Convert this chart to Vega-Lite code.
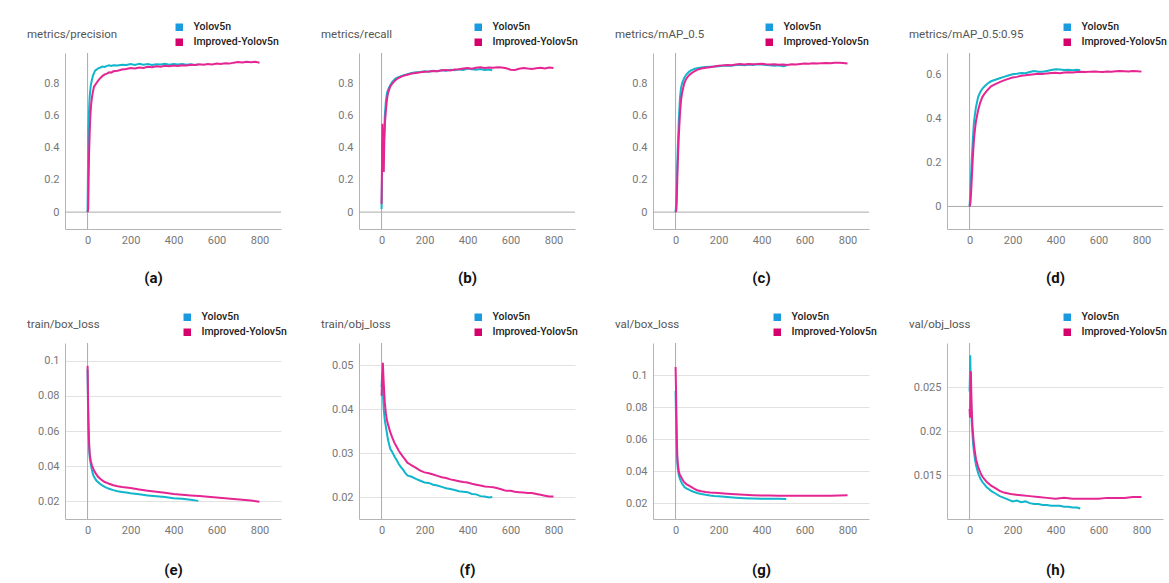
{
  "$schema": "https://vega.github.io/schema/vega-lite/v6.json",
  "background": "white",
  "padding": {"left": 27, "top": 22, "right": 4, "bottom": 4},
  "columns": 4,
  "bounds": "flush",
  "spacing": {"row": 114, "column": 78},
  "resolve": {"scale": {"fill": "independent", "stroke": "independent"}, "legend": {"fill": "independent", "stroke": "independent"}},
  "datasets": {
    "a": [
      {"m":"Yolov5n","e":0,"v":0.0},{"m":"Yolov5n","e":2,"v":0.28},{"m":"Yolov5n","e":4,"v":0.52},{"m":"Yolov5n","e":6,"v":0.6},{"m":"Yolov5n","e":8,"v":0.67},{"m":"Yolov5n","e":10,"v":0.72},{"m":"Yolov5n","e":15,"v":0.79},{"m":"Yolov5n","e":20,"v":0.82},{"m":"Yolov5n","e":25,"v":0.85},{"m":"Yolov5n","e":30,"v":0.865},{"m":"Yolov5n","e":35,"v":0.88},{"m":"Yolov5n","e":40,"v":0.885},{"m":"Yolov5n","e":50,"v":0.895},{"m":"Yolov5n","e":60,"v":0.9},{"m":"Yolov5n","e":70,"v":0.906},{"m":"Yolov5n","e":80,"v":0.903},{"m":"Yolov5n","e":90,"v":0.91},{"m":"Yolov5n","e":100,"v":0.913},{"m":"Yolov5n","e":110,"v":0.909},{"m":"Yolov5n","e":120,"v":0.914},{"m":"Yolov5n","e":140,"v":0.912},{"m":"Yolov5n","e":160,"v":0.917},{"m":"Yolov5n","e":180,"v":0.915},{"m":"Yolov5n","e":200,"v":0.921},{"m":"Yolov5n","e":220,"v":0.916},{"m":"Yolov5n","e":240,"v":0.923},{"m":"Yolov5n","e":260,"v":0.917},{"m":"Yolov5n","e":280,"v":0.921},{"m":"Yolov5n","e":300,"v":0.915},{"m":"Yolov5n","e":320,"v":0.92},{"m":"Yolov5n","e":340,"v":0.918},{"m":"Yolov5n","e":360,"v":0.923},{"m":"Yolov5n","e":380,"v":0.917},{"m":"Yolov5n","e":400,"v":0.921},{"m":"Yolov5n","e":420,"v":0.918},{"m":"Yolov5n","e":440,"v":0.922},{"m":"Yolov5n","e":460,"v":0.917},{"m":"Yolov5n","e":480,"v":0.92},{"m":"Yolov5n","e":500,"v":0.915},{"m":"Yolov5n","e":515,"v":0.918},
      {"m":"Improved-Yolov5n","e":0,"v":0.0},{"m":"Improved-Yolov5n","e":3,"v":0.02},{"m":"Improved-Yolov5n","e":5,"v":0.2},{"m":"Improved-Yolov5n","e":7,"v":0.36},{"m":"Improved-Yolov5n","e":10,"v":0.5},{"m":"Improved-Yolov5n","e":13,"v":0.6},{"m":"Improved-Yolov5n","e":16,"v":0.66},{"m":"Improved-Yolov5n","e":20,"v":0.71},{"m":"Improved-Yolov5n","e":25,"v":0.75},{"m":"Improved-Yolov5n","e":30,"v":0.78},{"m":"Improved-Yolov5n","e":35,"v":0.79},{"m":"Improved-Yolov5n","e":40,"v":0.8},{"m":"Improved-Yolov5n","e":50,"v":0.82},{"m":"Improved-Yolov5n","e":60,"v":0.835},{"m":"Improved-Yolov5n","e":70,"v":0.848},{"m":"Improved-Yolov5n","e":80,"v":0.857},{"m":"Improved-Yolov5n","e":90,"v":0.862},{"m":"Improved-Yolov5n","e":100,"v":0.87},{"m":"Improved-Yolov5n","e":110,"v":0.868},{"m":"Improved-Yolov5n","e":120,"v":0.876},{"m":"Improved-Yolov5n","e":140,"v":0.88},{"m":"Improved-Yolov5n","e":160,"v":0.887},{"m":"Improved-Yolov5n","e":180,"v":0.89},{"m":"Improved-Yolov5n","e":200,"v":0.896},{"m":"Improved-Yolov5n","e":220,"v":0.893},{"m":"Improved-Yolov5n","e":240,"v":0.9},{"m":"Improved-Yolov5n","e":260,"v":0.897},{"m":"Improved-Yolov5n","e":280,"v":0.904},{"m":"Improved-Yolov5n","e":300,"v":0.902},{"m":"Improved-Yolov5n","e":320,"v":0.908},{"m":"Improved-Yolov5n","e":340,"v":0.905},{"m":"Improved-Yolov5n","e":360,"v":0.91},{"m":"Improved-Yolov5n","e":380,"v":0.907},{"m":"Improved-Yolov5n","e":400,"v":0.912},{"m":"Improved-Yolov5n","e":420,"v":0.909},{"m":"Improved-Yolov5n","e":440,"v":0.914},{"m":"Improved-Yolov5n","e":460,"v":0.912},{"m":"Improved-Yolov5n","e":480,"v":0.917},{"m":"Improved-Yolov5n","e":500,"v":0.915},{"m":"Improved-Yolov5n","e":520,"v":0.92},{"m":"Improved-Yolov5n","e":540,"v":0.917},{"m":"Improved-Yolov5n","e":560,"v":0.921},{"m":"Improved-Yolov5n","e":580,"v":0.919},{"m":"Improved-Yolov5n","e":600,"v":0.924},{"m":"Improved-Yolov5n","e":620,"v":0.922},{"m":"Improved-Yolov5n","e":640,"v":0.926},{"m":"Improved-Yolov5n","e":660,"v":0.924},{"m":"Improved-Yolov5n","e":680,"v":0.93},{"m":"Improved-Yolov5n","e":700,"v":0.934},{"m":"Improved-Yolov5n","e":720,"v":0.931},{"m":"Improved-Yolov5n","e":740,"v":0.936},{"m":"Improved-Yolov5n","e":760,"v":0.933},{"m":"Improved-Yolov5n","e":780,"v":0.935},{"m":"Improved-Yolov5n","e":800,"v":0.93}
    ],
    "b": [
      {"m":"Yolov5n","e":0,"v":0.02},{"m":"Yolov5n","e":2,"v":0.2},{"m":"Yolov5n","e":4,"v":0.45},{"m":"Yolov5n","e":6,"v":0.35},{"m":"Yolov5n","e":8,"v":0.25},{"m":"Yolov5n","e":10,"v":0.4},{"m":"Yolov5n","e":15,"v":0.6},{"m":"Yolov5n","e":20,"v":0.69},{"m":"Yolov5n","e":25,"v":0.74},{"m":"Yolov5n","e":30,"v":0.76},{"m":"Yolov5n","e":40,"v":0.79},{"m":"Yolov5n","e":50,"v":0.81},{"m":"Yolov5n","e":60,"v":0.825},{"m":"Yolov5n","e":70,"v":0.835},{"m":"Yolov5n","e":80,"v":0.84},{"m":"Yolov5n","e":90,"v":0.845},{"m":"Yolov5n","e":100,"v":0.85},{"m":"Yolov5n","e":120,"v":0.858},{"m":"Yolov5n","e":140,"v":0.866},{"m":"Yolov5n","e":160,"v":0.87},{"m":"Yolov5n","e":180,"v":0.872},{"m":"Yolov5n","e":200,"v":0.876},{"m":"Yolov5n","e":220,"v":0.874},{"m":"Yolov5n","e":240,"v":0.879},{"m":"Yolov5n","e":260,"v":0.877},{"m":"Yolov5n","e":280,"v":0.883},{"m":"Yolov5n","e":300,"v":0.88},{"m":"Yolov5n","e":320,"v":0.885},{"m":"Yolov5n","e":340,"v":0.882},{"m":"Yolov5n","e":360,"v":0.888},{"m":"Yolov5n","e":380,"v":0.884},{"m":"Yolov5n","e":400,"v":0.893},{"m":"Yolov5n","e":420,"v":0.889},{"m":"Yolov5n","e":440,"v":0.886},{"m":"Yolov5n","e":460,"v":0.89},{"m":"Yolov5n","e":480,"v":0.884},{"m":"Yolov5n","e":500,"v":0.887},{"m":"Yolov5n","e":515,"v":0.883},
      {"m":"Improved-Yolov5n","e":0,"v":0.05},{"m":"Improved-Yolov5n","e":2,"v":0.3},{"m":"Improved-Yolov5n","e":4,"v":0.55},{"m":"Improved-Yolov5n","e":6,"v":0.5},{"m":"Improved-Yolov5n","e":8,"v":0.3},{"m":"Improved-Yolov5n","e":10,"v":0.25},{"m":"Improved-Yolov5n","e":13,"v":0.45},{"m":"Improved-Yolov5n","e":16,"v":0.56},{"m":"Improved-Yolov5n","e":20,"v":0.63},{"m":"Improved-Yolov5n","e":25,"v":0.7},{"m":"Improved-Yolov5n","e":30,"v":0.74},{"m":"Improved-Yolov5n","e":40,"v":0.78},{"m":"Improved-Yolov5n","e":50,"v":0.8},{"m":"Improved-Yolov5n","e":60,"v":0.815},{"m":"Improved-Yolov5n","e":70,"v":0.827},{"m":"Improved-Yolov5n","e":80,"v":0.835},{"m":"Improved-Yolov5n","e":90,"v":0.842},{"m":"Improved-Yolov5n","e":100,"v":0.848},{"m":"Improved-Yolov5n","e":120,"v":0.855},{"m":"Improved-Yolov5n","e":140,"v":0.862},{"m":"Improved-Yolov5n","e":160,"v":0.866},{"m":"Improved-Yolov5n","e":180,"v":0.87},{"m":"Improved-Yolov5n","e":200,"v":0.873},{"m":"Improved-Yolov5n","e":220,"v":0.875},{"m":"Improved-Yolov5n","e":240,"v":0.878},{"m":"Improved-Yolov5n","e":260,"v":0.876},{"m":"Improved-Yolov5n","e":280,"v":0.882},{"m":"Improved-Yolov5n","e":300,"v":0.884},{"m":"Improved-Yolov5n","e":320,"v":0.881},{"m":"Improved-Yolov5n","e":340,"v":0.887},{"m":"Improved-Yolov5n","e":360,"v":0.889},{"m":"Improved-Yolov5n","e":380,"v":0.893},{"m":"Improved-Yolov5n","e":400,"v":0.897},{"m":"Improved-Yolov5n","e":420,"v":0.892},{"m":"Improved-Yolov5n","e":440,"v":0.898},{"m":"Improved-Yolov5n","e":460,"v":0.901},{"m":"Improved-Yolov5n","e":480,"v":0.897},{"m":"Improved-Yolov5n","e":500,"v":0.9},{"m":"Improved-Yolov5n","e":520,"v":0.898},{"m":"Improved-Yolov5n","e":540,"v":0.902},{"m":"Improved-Yolov5n","e":560,"v":0.9},{"m":"Improved-Yolov5n","e":580,"v":0.895},{"m":"Improved-Yolov5n","e":600,"v":0.886},{"m":"Improved-Yolov5n","e":620,"v":0.884},{"m":"Improved-Yolov5n","e":640,"v":0.892},{"m":"Improved-Yolov5n","e":660,"v":0.896},{"m":"Improved-Yolov5n","e":680,"v":0.893},{"m":"Improved-Yolov5n","e":700,"v":0.891},{"m":"Improved-Yolov5n","e":720,"v":0.895},{"m":"Improved-Yolov5n","e":740,"v":0.898},{"m":"Improved-Yolov5n","e":760,"v":0.894},{"m":"Improved-Yolov5n","e":780,"v":0.899},{"m":"Improved-Yolov5n","e":800,"v":0.897}
    ],
    "c": [
      {"m":"Yolov5n","e":0,"v":0.0},{"m":"Yolov5n","e":3,"v":0.05},{"m":"Yolov5n","e":6,"v":0.2},{"m":"Yolov5n","e":10,"v":0.39},{"m":"Yolov5n","e":15,"v":0.57},{"m":"Yolov5n","e":20,"v":0.7},{"m":"Yolov5n","e":25,"v":0.77},{"m":"Yolov5n","e":30,"v":0.8},{"m":"Yolov5n","e":40,"v":0.835},{"m":"Yolov5n","e":50,"v":0.856},{"m":"Yolov5n","e":60,"v":0.87},{"m":"Yolov5n","e":70,"v":0.88},{"m":"Yolov5n","e":80,"v":0.887},{"m":"Yolov5n","e":90,"v":0.892},{"m":"Yolov5n","e":100,"v":0.896},{"m":"Yolov5n","e":120,"v":0.9},{"m":"Yolov5n","e":140,"v":0.903},{"m":"Yolov5n","e":160,"v":0.905},{"m":"Yolov5n","e":180,"v":0.906},{"m":"Yolov5n","e":200,"v":0.908},{"m":"Yolov5n","e":220,"v":0.91},{"m":"Yolov5n","e":240,"v":0.912},{"m":"Yolov5n","e":260,"v":0.911},{"m":"Yolov5n","e":280,"v":0.915},{"m":"Yolov5n","e":300,"v":0.917},{"m":"Yolov5n","e":320,"v":0.914},{"m":"Yolov5n","e":340,"v":0.918},{"m":"Yolov5n","e":360,"v":0.916},{"m":"Yolov5n","e":380,"v":0.92},{"m":"Yolov5n","e":400,"v":0.919},{"m":"Yolov5n","e":420,"v":0.916},{"m":"Yolov5n","e":440,"v":0.913},{"m":"Yolov5n","e":460,"v":0.911},{"m":"Yolov5n","e":480,"v":0.914},{"m":"Yolov5n","e":500,"v":0.908},{"m":"Yolov5n","e":515,"v":0.91},
      {"m":"Improved-Yolov5n","e":0,"v":0.0},{"m":"Improved-Yolov5n","e":3,"v":0.01},{"m":"Improved-Yolov5n","e":5,"v":0.05},{"m":"Improved-Yolov5n","e":8,"v":0.2},{"m":"Improved-Yolov5n","e":10,"v":0.3},{"m":"Improved-Yolov5n","e":15,"v":0.47},{"m":"Improved-Yolov5n","e":20,"v":0.6},{"m":"Improved-Yolov5n","e":25,"v":0.69},{"m":"Improved-Yolov5n","e":30,"v":0.74},{"m":"Improved-Yolov5n","e":40,"v":0.8},{"m":"Improved-Yolov5n","e":50,"v":0.83},{"m":"Improved-Yolov5n","e":60,"v":0.848},{"m":"Improved-Yolov5n","e":70,"v":0.86},{"m":"Improved-Yolov5n","e":80,"v":0.87},{"m":"Improved-Yolov5n","e":90,"v":0.878},{"m":"Improved-Yolov5n","e":100,"v":0.885},{"m":"Improved-Yolov5n","e":120,"v":0.893},{"m":"Improved-Yolov5n","e":140,"v":0.898},{"m":"Improved-Yolov5n","e":160,"v":0.902},{"m":"Improved-Yolov5n","e":180,"v":0.906},{"m":"Improved-Yolov5n","e":200,"v":0.91},{"m":"Improved-Yolov5n","e":220,"v":0.913},{"m":"Improved-Yolov5n","e":240,"v":0.916},{"m":"Improved-Yolov5n","e":260,"v":0.914},{"m":"Improved-Yolov5n","e":280,"v":0.918},{"m":"Improved-Yolov5n","e":300,"v":0.921},{"m":"Improved-Yolov5n","e":320,"v":0.919},{"m":"Improved-Yolov5n","e":340,"v":0.922},{"m":"Improved-Yolov5n","e":360,"v":0.92},{"m":"Improved-Yolov5n","e":380,"v":0.921},{"m":"Improved-Yolov5n","e":400,"v":0.923},{"m":"Improved-Yolov5n","e":420,"v":0.92},{"m":"Improved-Yolov5n","e":440,"v":0.918},{"m":"Improved-Yolov5n","e":460,"v":0.92},{"m":"Improved-Yolov5n","e":480,"v":0.917},{"m":"Improved-Yolov5n","e":500,"v":0.919},{"m":"Improved-Yolov5n","e":520,"v":0.916},{"m":"Improved-Yolov5n","e":540,"v":0.92},{"m":"Improved-Yolov5n","e":560,"v":0.918},{"m":"Improved-Yolov5n","e":580,"v":0.922},{"m":"Improved-Yolov5n","e":600,"v":0.925},{"m":"Improved-Yolov5n","e":620,"v":0.923},{"m":"Improved-Yolov5n","e":640,"v":0.926},{"m":"Improved-Yolov5n","e":660,"v":0.925},{"m":"Improved-Yolov5n","e":680,"v":0.927},{"m":"Improved-Yolov5n","e":700,"v":0.928},{"m":"Improved-Yolov5n","e":720,"v":0.927},{"m":"Improved-Yolov5n","e":740,"v":0.93},{"m":"Improved-Yolov5n","e":760,"v":0.929},{"m":"Improved-Yolov5n","e":780,"v":0.928},{"m":"Improved-Yolov5n","e":800,"v":0.925}
    ],
    "d": [
      {"m":"Yolov5n","e":0,"v":0.0},{"m":"Yolov5n","e":3,"v":0.05},{"m":"Yolov5n","e":6,"v":0.12},{"m":"Yolov5n","e":10,"v":0.21},{"m":"Yolov5n","e":15,"v":0.3},{"m":"Yolov5n","e":20,"v":0.38},{"m":"Yolov5n","e":25,"v":0.42},{"m":"Yolov5n","e":30,"v":0.454},{"m":"Yolov5n","e":40,"v":0.5},{"m":"Yolov5n","e":50,"v":0.522},{"m":"Yolov5n","e":60,"v":0.538},{"m":"Yolov5n","e":70,"v":0.548},{"m":"Yolov5n","e":80,"v":0.557},{"m":"Yolov5n","e":90,"v":0.565},{"m":"Yolov5n","e":100,"v":0.571},{"m":"Yolov5n","e":120,"v":0.578},{"m":"Yolov5n","e":140,"v":0.585},{"m":"Yolov5n","e":160,"v":0.591},{"m":"Yolov5n","e":180,"v":0.597},{"m":"Yolov5n","e":200,"v":0.603},{"m":"Yolov5n","e":220,"v":0.605},{"m":"Yolov5n","e":240,"v":0.609},{"m":"Yolov5n","e":260,"v":0.608},{"m":"Yolov5n","e":280,"v":0.613},{"m":"Yolov5n","e":300,"v":0.618},{"m":"Yolov5n","e":320,"v":0.615},{"m":"Yolov5n","e":340,"v":0.614},{"m":"Yolov5n","e":360,"v":0.618},{"m":"Yolov5n","e":380,"v":0.622},{"m":"Yolov5n","e":400,"v":0.626},{"m":"Yolov5n","e":420,"v":0.625},{"m":"Yolov5n","e":440,"v":0.623},{"m":"Yolov5n","e":460,"v":0.624},{"m":"Yolov5n","e":480,"v":0.621},{"m":"Yolov5n","e":500,"v":0.623},{"m":"Yolov5n","e":515,"v":0.621},
      {"m":"Improved-Yolov5n","e":0,"v":0.0},{"m":"Improved-Yolov5n","e":3,"v":0.01},{"m":"Improved-Yolov5n","e":5,"v":0.03},{"m":"Improved-Yolov5n","e":8,"v":0.08},{"m":"Improved-Yolov5n","e":10,"v":0.12},{"m":"Improved-Yolov5n","e":15,"v":0.22},{"m":"Improved-Yolov5n","e":20,"v":0.3},{"m":"Improved-Yolov5n","e":25,"v":0.35},{"m":"Improved-Yolov5n","e":30,"v":0.39},{"m":"Improved-Yolov5n","e":40,"v":0.44},{"m":"Improved-Yolov5n","e":50,"v":0.475},{"m":"Improved-Yolov5n","e":60,"v":0.5},{"m":"Improved-Yolov5n","e":70,"v":0.515},{"m":"Improved-Yolov5n","e":80,"v":0.527},{"m":"Improved-Yolov5n","e":90,"v":0.538},{"m":"Improved-Yolov5n","e":100,"v":0.548},{"m":"Improved-Yolov5n","e":120,"v":0.558},{"m":"Improved-Yolov5n","e":140,"v":0.567},{"m":"Improved-Yolov5n","e":160,"v":0.575},{"m":"Improved-Yolov5n","e":180,"v":0.582},{"m":"Improved-Yolov5n","e":200,"v":0.588},{"m":"Improved-Yolov5n","e":220,"v":0.591},{"m":"Improved-Yolov5n","e":240,"v":0.596},{"m":"Improved-Yolov5n","e":260,"v":0.598},{"m":"Improved-Yolov5n","e":280,"v":0.601},{"m":"Improved-Yolov5n","e":300,"v":0.603},{"m":"Improved-Yolov5n","e":320,"v":0.605},{"m":"Improved-Yolov5n","e":340,"v":0.604},{"m":"Improved-Yolov5n","e":360,"v":0.607},{"m":"Improved-Yolov5n","e":380,"v":0.609},{"m":"Improved-Yolov5n","e":400,"v":0.61},{"m":"Improved-Yolov5n","e":420,"v":0.608},{"m":"Improved-Yolov5n","e":440,"v":0.611},{"m":"Improved-Yolov5n","e":460,"v":0.612},{"m":"Improved-Yolov5n","e":480,"v":0.611},{"m":"Improved-Yolov5n","e":500,"v":0.613},{"m":"Improved-Yolov5n","e":520,"v":0.614},{"m":"Improved-Yolov5n","e":540,"v":0.613},{"m":"Improved-Yolov5n","e":560,"v":0.615},{"m":"Improved-Yolov5n","e":580,"v":0.616},{"m":"Improved-Yolov5n","e":600,"v":0.614},{"m":"Improved-Yolov5n","e":620,"v":0.613},{"m":"Improved-Yolov5n","e":640,"v":0.616},{"m":"Improved-Yolov5n","e":660,"v":0.615},{"m":"Improved-Yolov5n","e":680,"v":0.617},{"m":"Improved-Yolov5n","e":700,"v":0.618},{"m":"Improved-Yolov5n","e":720,"v":0.617},{"m":"Improved-Yolov5n","e":740,"v":0.616},{"m":"Improved-Yolov5n","e":760,"v":0.618},{"m":"Improved-Yolov5n","e":780,"v":0.617},{"m":"Improved-Yolov5n","e":800,"v":0.615}
    ],
    "e": [
      {"m":"Yolov5n","e":0,"v":0.095},{"m":"Yolov5n","e":2,"v":0.075},{"m":"Yolov5n","e":4,"v":0.062},{"m":"Yolov5n","e":6,"v":0.054},{"m":"Yolov5n","e":8,"v":0.049},{"m":"Yolov5n","e":10,"v":0.045},{"m":"Yolov5n","e":15,"v":0.041},{"m":"Yolov5n","e":20,"v":0.038},{"m":"Yolov5n","e":25,"v":0.0355},{"m":"Yolov5n","e":30,"v":0.034},{"m":"Yolov5n","e":40,"v":0.032},{"m":"Yolov5n","e":50,"v":0.0308},{"m":"Yolov5n","e":60,"v":0.0298},{"m":"Yolov5n","e":70,"v":0.029},{"m":"Yolov5n","e":80,"v":0.0283},{"m":"Yolov5n","e":90,"v":0.0277},{"m":"Yolov5n","e":100,"v":0.0272},{"m":"Yolov5n","e":120,"v":0.0264},{"m":"Yolov5n","e":140,"v":0.0258},{"m":"Yolov5n","e":160,"v":0.0254},{"m":"Yolov5n","e":180,"v":0.025},{"m":"Yolov5n","e":200,"v":0.0246},{"m":"Yolov5n","e":240,"v":0.024},{"m":"Yolov5n","e":280,"v":0.0234},{"m":"Yolov5n","e":320,"v":0.0229},{"m":"Yolov5n","e":360,"v":0.0225},{"m":"Yolov5n","e":400,"v":0.0218},{"m":"Yolov5n","e":440,"v":0.0215},{"m":"Yolov5n","e":480,"v":0.0209},{"m":"Yolov5n","e":515,"v":0.0203},
      {"m":"Improved-Yolov5n","e":0,"v":0.097},{"m":"Improved-Yolov5n","e":2,"v":0.08},{"m":"Improved-Yolov5n","e":4,"v":0.066},{"m":"Improved-Yolov5n","e":6,"v":0.057},{"m":"Improved-Yolov5n","e":8,"v":0.051},{"m":"Improved-Yolov5n","e":10,"v":0.047},{"m":"Improved-Yolov5n","e":15,"v":0.043},{"m":"Improved-Yolov5n","e":20,"v":0.0405},{"m":"Improved-Yolov5n","e":25,"v":0.039},{"m":"Improved-Yolov5n","e":30,"v":0.0375},{"m":"Improved-Yolov5n","e":40,"v":0.0355},{"m":"Improved-Yolov5n","e":50,"v":0.0338},{"m":"Improved-Yolov5n","e":60,"v":0.0327},{"m":"Improved-Yolov5n","e":70,"v":0.0318},{"m":"Improved-Yolov5n","e":80,"v":0.031},{"m":"Improved-Yolov5n","e":90,"v":0.0305},{"m":"Improved-Yolov5n","e":100,"v":0.03},{"m":"Improved-Yolov5n","e":120,"v":0.0292},{"m":"Improved-Yolov5n","e":140,"v":0.0286},{"m":"Improved-Yolov5n","e":160,"v":0.0282},{"m":"Improved-Yolov5n","e":180,"v":0.0279},{"m":"Improved-Yolov5n","e":200,"v":0.0276},{"m":"Improved-Yolov5n","e":240,"v":0.0268},{"m":"Improved-Yolov5n","e":280,"v":0.0261},{"m":"Improved-Yolov5n","e":320,"v":0.0255},{"m":"Improved-Yolov5n","e":360,"v":0.0249},{"m":"Improved-Yolov5n","e":400,"v":0.0242},{"m":"Improved-Yolov5n","e":440,"v":0.0238},{"m":"Improved-Yolov5n","e":480,"v":0.0234},{"m":"Improved-Yolov5n","e":520,"v":0.023},{"m":"Improved-Yolov5n","e":560,"v":0.0227},{"m":"Improved-Yolov5n","e":600,"v":0.0222},{"m":"Improved-Yolov5n","e":640,"v":0.0218},{"m":"Improved-Yolov5n","e":680,"v":0.0214},{"m":"Improved-Yolov5n","e":720,"v":0.021},{"m":"Improved-Yolov5n","e":760,"v":0.0205},{"m":"Improved-Yolov5n","e":800,"v":0.0198}
    ],
    "f": [
      {"m":"Yolov5n","e":0,"v":0.045},{"m":"Yolov5n","e":3,"v":0.048},{"m":"Yolov5n","e":5,"v":0.045},{"m":"Yolov5n","e":8,"v":0.042},{"m":"Yolov5n","e":10,"v":0.04},{"m":"Yolov5n","e":15,"v":0.0375},{"m":"Yolov5n","e":20,"v":0.036},{"m":"Yolov5n","e":25,"v":0.0345},{"m":"Yolov5n","e":30,"v":0.033},{"m":"Yolov5n","e":40,"v":0.031},{"m":"Yolov5n","e":50,"v":0.0302},{"m":"Yolov5n","e":60,"v":0.0292},{"m":"Yolov5n","e":70,"v":0.0284},{"m":"Yolov5n","e":80,"v":0.0275},{"m":"Yolov5n","e":90,"v":0.0268},{"m":"Yolov5n","e":100,"v":0.0262},{"m":"Yolov5n","e":110,"v":0.0255},{"m":"Yolov5n","e":120,"v":0.0249},{"m":"Yolov5n","e":140,"v":0.0246},{"m":"Yolov5n","e":160,"v":0.0241},{"m":"Yolov5n","e":180,"v":0.0237},{"m":"Yolov5n","e":200,"v":0.0233},{"m":"Yolov5n","e":220,"v":0.0232},{"m":"Yolov5n","e":240,"v":0.0228},{"m":"Yolov5n","e":260,"v":0.0226},{"m":"Yolov5n","e":280,"v":0.0223},{"m":"Yolov5n","e":300,"v":0.022},{"m":"Yolov5n","e":320,"v":0.0218},{"m":"Yolov5n","e":340,"v":0.0216},{"m":"Yolov5n","e":360,"v":0.0213},{"m":"Yolov5n","e":380,"v":0.0212},{"m":"Yolov5n","e":400,"v":0.0211},{"m":"Yolov5n","e":420,"v":0.0207},{"m":"Yolov5n","e":440,"v":0.0206},{"m":"Yolov5n","e":460,"v":0.0202},{"m":"Yolov5n","e":480,"v":0.0201},{"m":"Yolov5n","e":500,"v":0.0199},{"m":"Yolov5n","e":515,"v":0.02},
      {"m":"Improved-Yolov5n","e":0,"v":0.043},{"m":"Improved-Yolov5n","e":3,"v":0.047},{"m":"Improved-Yolov5n","e":6,"v":0.0505},{"m":"Improved-Yolov5n","e":8,"v":0.048},{"m":"Improved-Yolov5n","e":10,"v":0.046},{"m":"Improved-Yolov5n","e":15,"v":0.0415},{"m":"Improved-Yolov5n","e":20,"v":0.039},{"m":"Improved-Yolov5n","e":25,"v":0.0375},{"m":"Improved-Yolov5n","e":30,"v":0.0365},{"m":"Improved-Yolov5n","e":40,"v":0.0348},{"m":"Improved-Yolov5n","e":50,"v":0.0335},{"m":"Improved-Yolov5n","e":60,"v":0.0323},{"m":"Improved-Yolov5n","e":70,"v":0.0314},{"m":"Improved-Yolov5n","e":80,"v":0.0305},{"m":"Improved-Yolov5n","e":90,"v":0.0298},{"m":"Improved-Yolov5n","e":100,"v":0.0291},{"m":"Improved-Yolov5n","e":110,"v":0.0285},{"m":"Improved-Yolov5n","e":120,"v":0.0278},{"m":"Improved-Yolov5n","e":130,"v":0.0275},{"m":"Improved-Yolov5n","e":140,"v":0.0272},{"m":"Improved-Yolov5n","e":160,"v":0.0266},{"m":"Improved-Yolov5n","e":180,"v":0.026},{"m":"Improved-Yolov5n","e":200,"v":0.0256},{"m":"Improved-Yolov5n","e":220,"v":0.0254},{"m":"Improved-Yolov5n","e":240,"v":0.0251},{"m":"Improved-Yolov5n","e":260,"v":0.0248},{"m":"Improved-Yolov5n","e":280,"v":0.0245},{"m":"Improved-Yolov5n","e":300,"v":0.0243},{"m":"Improved-Yolov5n","e":320,"v":0.024},{"m":"Improved-Yolov5n","e":340,"v":0.0238},{"m":"Improved-Yolov5n","e":360,"v":0.0236},{"m":"Improved-Yolov5n","e":380,"v":0.0234},{"m":"Improved-Yolov5n","e":400,"v":0.0233},{"m":"Improved-Yolov5n","e":420,"v":0.023},{"m":"Improved-Yolov5n","e":440,"v":0.0228},{"m":"Improved-Yolov5n","e":460,"v":0.0226},{"m":"Improved-Yolov5n","e":480,"v":0.0224},{"m":"Improved-Yolov5n","e":500,"v":0.0223},{"m":"Improved-Yolov5n","e":520,"v":0.0222},{"m":"Improved-Yolov5n","e":540,"v":0.022},{"m":"Improved-Yolov5n","e":560,"v":0.0217},{"m":"Improved-Yolov5n","e":580,"v":0.0214},{"m":"Improved-Yolov5n","e":600,"v":0.0214},{"m":"Improved-Yolov5n","e":620,"v":0.0212},{"m":"Improved-Yolov5n","e":640,"v":0.0211},{"m":"Improved-Yolov5n","e":660,"v":0.021},{"m":"Improved-Yolov5n","e":680,"v":0.0209},{"m":"Improved-Yolov5n","e":700,"v":0.0209},{"m":"Improved-Yolov5n","e":720,"v":0.0207},{"m":"Improved-Yolov5n","e":740,"v":0.0205},{"m":"Improved-Yolov5n","e":760,"v":0.0203},{"m":"Improved-Yolov5n","e":780,"v":0.0201},{"m":"Improved-Yolov5n","e":800,"v":0.0201}
    ],
    "g": [
      {"m":"Yolov5n","e":0,"v":0.09},{"m":"Yolov5n","e":2,"v":0.075},{"m":"Yolov5n","e":4,"v":0.062},{"m":"Yolov5n","e":6,"v":0.052},{"m":"Yolov5n","e":8,"v":0.046},{"m":"Yolov5n","e":10,"v":0.042},{"m":"Yolov5n","e":15,"v":0.0375},{"m":"Yolov5n","e":20,"v":0.035},{"m":"Yolov5n","e":30,"v":0.0322},{"m":"Yolov5n","e":40,"v":0.0302},{"m":"Yolov5n","e":50,"v":0.0292},{"m":"Yolov5n","e":60,"v":0.0285},{"m":"Yolov5n","e":70,"v":0.0278},{"m":"Yolov5n","e":80,"v":0.0272},{"m":"Yolov5n","e":90,"v":0.0267},{"m":"Yolov5n","e":100,"v":0.0263},{"m":"Yolov5n","e":120,"v":0.0256},{"m":"Yolov5n","e":140,"v":0.0251},{"m":"Yolov5n","e":160,"v":0.0247},{"m":"Yolov5n","e":180,"v":0.0244},{"m":"Yolov5n","e":200,"v":0.0242},{"m":"Yolov5n","e":240,"v":0.0237},{"m":"Yolov5n","e":280,"v":0.0233},{"m":"Yolov5n","e":320,"v":0.023},{"m":"Yolov5n","e":360,"v":0.0228},{"m":"Yolov5n","e":400,"v":0.0227},{"m":"Yolov5n","e":440,"v":0.0226},{"m":"Yolov5n","e":480,"v":0.0226},{"m":"Yolov5n","e":515,"v":0.0225},
      {"m":"Improved-Yolov5n","e":0,"v":0.105},{"m":"Improved-Yolov5n","e":2,"v":0.092},{"m":"Improved-Yolov5n","e":4,"v":0.075},{"m":"Improved-Yolov5n","e":6,"v":0.06},{"m":"Improved-Yolov5n","e":8,"v":0.05},{"m":"Improved-Yolov5n","e":10,"v":0.045},{"m":"Improved-Yolov5n","e":15,"v":0.04},{"m":"Improved-Yolov5n","e":20,"v":0.0375},{"m":"Improved-Yolov5n","e":25,"v":0.0365},{"m":"Improved-Yolov5n","e":30,"v":0.0352},{"m":"Improved-Yolov5n","e":40,"v":0.033},{"m":"Improved-Yolov5n","e":50,"v":0.0318},{"m":"Improved-Yolov5n","e":60,"v":0.031},{"m":"Improved-Yolov5n","e":70,"v":0.0302},{"m":"Improved-Yolov5n","e":80,"v":0.0294},{"m":"Improved-Yolov5n","e":90,"v":0.0287},{"m":"Improved-Yolov5n","e":100,"v":0.028},{"m":"Improved-Yolov5n","e":120,"v":0.0274},{"m":"Improved-Yolov5n","e":140,"v":0.0269},{"m":"Improved-Yolov5n","e":160,"v":0.0266},{"m":"Improved-Yolov5n","e":180,"v":0.0264},{"m":"Improved-Yolov5n","e":200,"v":0.0262},{"m":"Improved-Yolov5n","e":240,"v":0.0258},{"m":"Improved-Yolov5n","e":280,"v":0.0254},{"m":"Improved-Yolov5n","e":320,"v":0.0251},{"m":"Improved-Yolov5n","e":360,"v":0.0249},{"m":"Improved-Yolov5n","e":400,"v":0.0247},{"m":"Improved-Yolov5n","e":440,"v":0.0247},{"m":"Improved-Yolov5n","e":480,"v":0.0246},{"m":"Improved-Yolov5n","e":520,"v":0.0246},{"m":"Improved-Yolov5n","e":560,"v":0.0246},{"m":"Improved-Yolov5n","e":600,"v":0.0245},{"m":"Improved-Yolov5n","e":640,"v":0.0245},{"m":"Improved-Yolov5n","e":680,"v":0.0246},{"m":"Improved-Yolov5n","e":720,"v":0.0246},{"m":"Improved-Yolov5n","e":760,"v":0.0247},{"m":"Improved-Yolov5n","e":800,"v":0.0248}
    ],
    "h": [
      {"m":"Yolov5n","e":0,"v":0.0245},{"m":"Yolov5n","e":2,"v":0.0265},{"m":"Yolov5n","e":3,"v":0.0286},{"m":"Yolov5n","e":5,"v":0.026},{"m":"Yolov5n","e":7,"v":0.0235},{"m":"Yolov5n","e":10,"v":0.021},{"m":"Yolov5n","e":13,"v":0.0198},{"m":"Yolov5n","e":16,"v":0.0187},{"m":"Yolov5n","e":20,"v":0.0177},{"m":"Yolov5n","e":25,"v":0.0168},{"m":"Yolov5n","e":30,"v":0.0161},{"m":"Yolov5n","e":40,"v":0.0152},{"m":"Yolov5n","e":50,"v":0.0146},{"m":"Yolov5n","e":60,"v":0.0142},{"m":"Yolov5n","e":70,"v":0.0139},{"m":"Yolov5n","e":80,"v":0.0136},{"m":"Yolov5n","e":90,"v":0.0134},{"m":"Yolov5n","e":100,"v":0.0132},{"m":"Yolov5n","e":120,"v":0.0129},{"m":"Yolov5n","e":140,"v":0.0126},{"m":"Yolov5n","e":160,"v":0.0124},{"m":"Yolov5n","e":180,"v":0.0122},{"m":"Yolov5n","e":200,"v":0.012},{"m":"Yolov5n","e":220,"v":0.0121},{"m":"Yolov5n","e":240,"v":0.0119},{"m":"Yolov5n","e":260,"v":0.012},{"m":"Yolov5n","e":280,"v":0.0118},{"m":"Yolov5n","e":300,"v":0.0117},{"m":"Yolov5n","e":320,"v":0.0117},{"m":"Yolov5n","e":340,"v":0.0116},{"m":"Yolov5n","e":360,"v":0.0116},{"m":"Yolov5n","e":380,"v":0.0115},{"m":"Yolov5n","e":400,"v":0.0115},{"m":"Yolov5n","e":420,"v":0.0115},{"m":"Yolov5n","e":440,"v":0.0114},{"m":"Yolov5n","e":460,"v":0.0114},{"m":"Yolov5n","e":480,"v":0.0113},{"m":"Yolov5n","e":500,"v":0.0113},{"m":"Yolov5n","e":515,"v":0.0112},
      {"m":"Improved-Yolov5n","e":0,"v":0.0225},{"m":"Improved-Yolov5n","e":2,"v":0.0215},{"m":"Improved-Yolov5n","e":4,"v":0.024},{"m":"Improved-Yolov5n","e":6,"v":0.0268},{"m":"Improved-Yolov5n","e":8,"v":0.0245},{"m":"Improved-Yolov5n","e":10,"v":0.0225},{"m":"Improved-Yolov5n","e":13,"v":0.0208},{"m":"Improved-Yolov5n","e":16,"v":0.0197},{"m":"Improved-Yolov5n","e":20,"v":0.0186},{"m":"Improved-Yolov5n","e":25,"v":0.0176},{"m":"Improved-Yolov5n","e":30,"v":0.0168},{"m":"Improved-Yolov5n","e":40,"v":0.0159},{"m":"Improved-Yolov5n","e":50,"v":0.0153},{"m":"Improved-Yolov5n","e":60,"v":0.0148},{"m":"Improved-Yolov5n","e":70,"v":0.0145},{"m":"Improved-Yolov5n","e":80,"v":0.0142},{"m":"Improved-Yolov5n","e":90,"v":0.014},{"m":"Improved-Yolov5n","e":100,"v":0.0138},{"m":"Improved-Yolov5n","e":120,"v":0.0135},{"m":"Improved-Yolov5n","e":140,"v":0.0132},{"m":"Improved-Yolov5n","e":160,"v":0.013},{"m":"Improved-Yolov5n","e":180,"v":0.0129},{"m":"Improved-Yolov5n","e":200,"v":0.0128},{"m":"Improved-Yolov5n","e":240,"v":0.0127},{"m":"Improved-Yolov5n","e":280,"v":0.0126},{"m":"Improved-Yolov5n","e":320,"v":0.0125},{"m":"Improved-Yolov5n","e":360,"v":0.0124},{"m":"Improved-Yolov5n","e":400,"v":0.0123},{"m":"Improved-Yolov5n","e":440,"v":0.0124},{"m":"Improved-Yolov5n","e":480,"v":0.0123},{"m":"Improved-Yolov5n","e":520,"v":0.0123},{"m":"Improved-Yolov5n","e":560,"v":0.0123},{"m":"Improved-Yolov5n","e":600,"v":0.0123},{"m":"Improved-Yolov5n","e":640,"v":0.0124},{"m":"Improved-Yolov5n","e":680,"v":0.0124},{"m":"Improved-Yolov5n","e":720,"v":0.0124},{"m":"Improved-Yolov5n","e":760,"v":0.0125},{"m":"Improved-Yolov5n","e":800,"v":0.0125}
    ]
  },
  "concat": [
    {
      "title": "metrics/precision", "width": 216, "height": 176, "data": {"name": "a"},
      "layer": [
        {"data": {"values": [{}]}, "mark": {"type": "rule", "color": "#aaaaaa"}, "encoding": {"x": {"datum": 0, "type": "quantitative"}}},
        {"data": {"values": [{}]}, "mark": {"type": "rule", "color": "#aaaaaa"}, "encoding": {"y": {"datum": 0, "type": "quantitative"}}},
        {"mark": {"type": "square", "size": 0}, "encoding": {"x": {"field": "e", "type": "quantitative"}, "y": {"field": "v", "type": "quantitative"}, "fill": {"field": "m", "type": "nominal", "scale": {"domain": ["Yolov5n", "Improved-Yolov5n"], "range": ["#1a9be0", "#d6006d"]}, "legend": {"title": null, "legendX": 109, "legendY": -31}}}},
        {"mark": {"type": "line", "strokeWidth": 2, "clip": true}, "encoding": {
          "x": {"field": "e", "type": "quantitative", "scale": {"domain": [-105, 900], "nice": false, "zero": false}, "axis": {"values": [0, 200, 400, 600, 800], "format": "~r", "title": "(a)", "titlePadding": 25, "titleX": 88}},
          "y": {"field": "v", "type": "quantitative", "scale": {"domain": [-0.105, 0.99], "nice": false, "zero": false}, "axis": {"values": [0, 0.2, 0.4, 0.6, 0.8], "format": "~r", "title": null}},
          "stroke": {"field": "m", "type": "nominal", "legend": null, "scale": {"domain": ["Yolov5n", "Improved-Yolov5n"], "range": ["#12b5cb", "#e52592"]}}}}
      ]
    },
    {
      "title": "metrics/recall", "width": 216, "height": 176, "data": {"name": "b"},
      "layer": [
        {"data": {"values": [{}]}, "mark": {"type": "rule", "color": "#aaaaaa"}, "encoding": {"x": {"datum": 0, "type": "quantitative"}}},
        {"data": {"values": [{}]}, "mark": {"type": "rule", "color": "#aaaaaa"}, "encoding": {"y": {"datum": 0, "type": "quantitative"}}},
        {"mark": {"type": "square", "size": 0}, "encoding": {"x": {"field": "e", "type": "quantitative"}, "y": {"field": "v", "type": "quantitative"}, "fill": {"field": "m", "type": "nominal", "scale": {"domain": ["Yolov5n", "Improved-Yolov5n"], "range": ["#1a9be0", "#d6006d"]}, "legend": {"title": null, "legendX": 114, "legendY": -31}}}},
        {"mark": {"type": "line", "strokeWidth": 2, "clip": true}, "encoding": {
          "x": {"field": "e", "type": "quantitative", "scale": {"domain": [-105, 900], "nice": false, "zero": false}, "axis": {"values": [0, 200, 400, 600, 800], "format": "~r", "title": "(b)", "titlePadding": 25}},
          "y": {"field": "v", "type": "quantitative", "scale": {"domain": [-0.105, 0.99], "nice": false, "zero": false}, "axis": {"values": [0, 0.2, 0.4, 0.6, 0.8], "format": "~r", "title": null}},
          "stroke": {"field": "m", "type": "nominal", "legend": null, "scale": {"domain": ["Yolov5n", "Improved-Yolov5n"], "range": ["#12b5cb", "#e52592"]}}}}
      ]
    },
    {
      "title": "metrics/mAP_0.5", "width": 216, "height": 176, "data": {"name": "c"},
      "layer": [
        {"data": {"values": [{}]}, "mark": {"type": "rule", "color": "#aaaaaa"}, "encoding": {"x": {"datum": 0, "type": "quantitative"}}},
        {"data": {"values": [{}]}, "mark": {"type": "rule", "color": "#aaaaaa"}, "encoding": {"y": {"datum": 0, "type": "quantitative"}}},
        {"mark": {"type": "square", "size": 0}, "encoding": {"x": {"field": "e", "type": "quantitative"}, "y": {"field": "v", "type": "quantitative"}, "fill": {"field": "m", "type": "nominal", "scale": {"domain": ["Yolov5n", "Improved-Yolov5n"], "range": ["#1a9be0", "#d6006d"]}, "legend": {"title": null, "legendX": 111, "legendY": -31}}}},
        {"mark": {"type": "line", "strokeWidth": 2, "clip": true}, "encoding": {
          "x": {"field": "e", "type": "quantitative", "scale": {"domain": [-105, 900], "nice": false, "zero": false}, "axis": {"values": [0, 200, 400, 600, 800], "format": "~r", "title": "(c)", "titlePadding": 25}},
          "y": {"field": "v", "type": "quantitative", "scale": {"domain": [-0.105, 0.99], "nice": false, "zero": false}, "axis": {"values": [0, 0.2, 0.4, 0.6, 0.8], "format": "~r", "title": null}},
          "stroke": {"field": "m", "type": "nominal", "legend": null, "scale": {"domain": ["Yolov5n", "Improved-Yolov5n"], "range": ["#12b5cb", "#e52592"]}}}}
      ]
    },
    {
      "title": "metrics/mAP_0.5:0.95", "width": 216, "height": 176, "data": {"name": "d"},
      "layer": [
        {"data": {"values": [{}]}, "mark": {"type": "rule", "color": "#aaaaaa"}, "encoding": {"x": {"datum": 0, "type": "quantitative"}}},
        {"data": {"values": [{}]}, "mark": {"type": "rule", "color": "#aaaaaa"}, "encoding": {"y": {"datum": 0, "type": "quantitative"}}},
        {"mark": {"type": "square", "size": 0}, "encoding": {"x": {"field": "e", "type": "quantitative"}, "y": {"field": "v", "type": "quantitative"}, "fill": {"field": "m", "type": "nominal", "scale": {"domain": ["Yolov5n", "Improved-Yolov5n"], "range": ["#1a9be0", "#d6006d"]}, "legend": {"title": null, "legendX": 115, "legendY": -31}}}},
        {"mark": {"type": "line", "strokeWidth": 2, "clip": true}, "encoding": {
          "x": {"field": "e", "type": "quantitative", "scale": {"domain": [-105, 900], "nice": false, "zero": false}, "axis": {"values": [0, 200, 400, 600, 800], "format": "~r", "title": "(d)", "titlePadding": 25}},
          "y": {"field": "v", "type": "quantitative", "scale": {"domain": [-0.103, 0.7], "nice": false, "zero": false}, "axis": {"values": [0, 0.2, 0.4, 0.6], "format": "~r", "title": null}},
          "stroke": {"field": "m", "type": "nominal", "legend": null, "scale": {"domain": ["Yolov5n", "Improved-Yolov5n"], "range": ["#12b5cb", "#e52592"]}}}}
      ]
    },
    {
      "title": "train/box_loss", "width": 216, "height": 176, "data": {"name": "e"},
      "layer": [
        {"data": {"values": [{}]}, "mark": {"type": "rule", "color": "#aaaaaa"}, "encoding": {"x": {"datum": 0, "type": "quantitative"}}},
        {"mark": {"type": "square", "size": 0}, "encoding": {"x": {"field": "e", "type": "quantitative"}, "y": {"field": "v", "type": "quantitative"}, "fill": {"field": "m", "type": "nominal", "scale": {"domain": ["Yolov5n", "Improved-Yolov5n"], "range": ["#1a9be0", "#d6006d"]}, "legend": {"title": null, "legendX": 117, "legendY": -31}}}},
        {"mark": {"type": "line", "strokeWidth": 2, "clip": true}, "encoding": {
          "x": {"field": "e", "type": "quantitative", "scale": {"domain": [-105, 900], "nice": false, "zero": false}, "axis": {"values": [0, 200, 400, 600, 800], "format": "~r", "title": "(e)", "titlePadding": 27}},
          "y": {"field": "v", "type": "quantitative", "scale": {"domain": [0.01, 0.11], "nice": false, "zero": false}, "axis": {"values": [0.02, 0.04, 0.06, 0.08, 0.1], "format": "~r", "title": null}},
          "stroke": {"field": "m", "type": "nominal", "legend": null, "scale": {"domain": ["Yolov5n", "Improved-Yolov5n"], "range": ["#12b5cb", "#e52592"]}}}}
      ]
    },
    {
      "title": "train/obj_loss", "width": 216, "height": 176, "data": {"name": "f"},
      "layer": [
        {"data": {"values": [{}]}, "mark": {"type": "rule", "color": "#aaaaaa"}, "encoding": {"x": {"datum": 0, "type": "quantitative"}}},
        {"mark": {"type": "square", "size": 0}, "encoding": {"x": {"field": "e", "type": "quantitative"}, "y": {"field": "v", "type": "quantitative"}, "fill": {"field": "m", "type": "nominal", "scale": {"domain": ["Yolov5n", "Improved-Yolov5n"], "range": ["#1a9be0", "#d6006d"]}, "legend": {"title": null, "legendX": 114, "legendY": -31}}}},
        {"mark": {"type": "line", "strokeWidth": 2, "clip": true}, "encoding": {
          "x": {"field": "e", "type": "quantitative", "scale": {"domain": [-105, 900], "nice": false, "zero": false}, "axis": {"values": [0, 200, 400, 600, 800], "format": "~r", "title": "(f)", "titlePadding": 27}},
          "y": {"field": "v", "type": "quantitative", "scale": {"domain": [0.015, 0.055], "nice": false, "zero": false}, "axis": {"values": [0.02, 0.03, 0.04, 0.05], "format": "~r", "title": null}},
          "stroke": {"field": "m", "type": "nominal", "legend": null, "scale": {"domain": ["Yolov5n", "Improved-Yolov5n"], "range": ["#12b5cb", "#e52592"]}}}}
      ]
    },
    {
      "title": "val/box_loss", "width": 216, "height": 176, "data": {"name": "g"},
      "layer": [
        {"data": {"values": [{}]}, "mark": {"type": "rule", "color": "#aaaaaa"}, "encoding": {"x": {"datum": 0, "type": "quantitative"}}},
        {"mark": {"type": "square", "size": 0}, "encoding": {"x": {"field": "e", "type": "quantitative"}, "y": {"field": "v", "type": "quantitative"}, "fill": {"field": "m", "type": "nominal", "scale": {"domain": ["Yolov5n", "Improved-Yolov5n"], "range": ["#1a9be0", "#d6006d"]}, "legend": {"title": null, "legendX": 119, "legendY": -31}}}},
        {"mark": {"type": "line", "strokeWidth": 2, "clip": true}, "encoding": {
          "x": {"field": "e", "type": "quantitative", "scale": {"domain": [-105, 900], "nice": false, "zero": false}, "axis": {"values": [0, 200, 400, 600, 800], "format": "~r", "title": "(g)", "titlePadding": 27}},
          "y": {"field": "v", "type": "quantitative", "scale": {"domain": [0.01, 0.12], "nice": false, "zero": false}, "axis": {"values": [0.02, 0.04, 0.06, 0.08, 0.1], "format": "~r", "title": null}},
          "stroke": {"field": "m", "type": "nominal", "legend": null, "scale": {"domain": ["Yolov5n", "Improved-Yolov5n"], "range": ["#12b5cb", "#e52592"]}}}}
      ]
    },
    {
      "title": "val/obj_loss", "width": 216, "height": 176, "data": {"name": "h"},
      "layer": [
        {"data": {"values": [{}]}, "mark": {"type": "rule", "color": "#aaaaaa"}, "encoding": {"x": {"datum": 0, "type": "quantitative"}}},
        {"mark": {"type": "square", "size": 0}, "encoding": {"x": {"field": "e", "type": "quantitative"}, "y": {"field": "v", "type": "quantitative"}, "fill": {"field": "m", "type": "nominal", "scale": {"domain": ["Yolov5n", "Improved-Yolov5n"], "range": ["#1a9be0", "#d6006d"]}, "legend": {"title": null, "legendX": 115, "legendY": -31}}}},
        {"mark": {"type": "line", "strokeWidth": 2, "clip": true}, "encoding": {
          "x": {"field": "e", "type": "quantitative", "scale": {"domain": [-105, 900], "nice": false, "zero": false}, "axis": {"values": [0, 200, 400, 600, 800], "format": "~r", "title": "(h)", "titlePadding": 27}},
          "y": {"field": "v", "type": "quantitative", "scale": {"domain": [0.01, 0.03], "nice": false, "zero": false}, "axis": {"values": [0.015, 0.02, 0.025], "format": "~r", "title": null}},
          "stroke": {"field": "m", "type": "nominal", "legend": null, "scale": {"domain": ["Yolov5n", "Improved-Yolov5n"], "range": ["#12b5cb", "#e52592"]}}}}
      ]
    }
  ],
  "config": {
    "view": {"stroke": null},
    "font": "Roboto",
    "axis": {"gridColor": "#e2e2e2", "domainColor": "#b5b5b5", "ticks": false, "labelColor": "#777777", "labelFontSize": 11, "labelFont": "Roboto", "labelPadding": 5, "titleFont": "Roboto", "titleFontSize": 15, "titleFontWeight": "bold", "titleColor": "#111111"},
    "axisY": {"labelPadding": 6},
    "title": {"anchor": "start", "frame": "group", "fontSize": 11.5, "fontWeight": "normal", "color": "#555555", "offset": 12, "dx": -38, "dy": 30, "font": "Roboto"},
    "legend": {"orient": "none", "direction": "vertical", "symbolType": "square", "symbolSize": 56, "symbolOpacity": 1, "symbolStrokeWidth": 0, "labelFontSize": 10.5, "labelFontWeight": 500, "labelColor": "#222222", "labelFont": "Roboto", "labelOffset": 9, "rowPadding": 4, "padding": 0}
  }
}
